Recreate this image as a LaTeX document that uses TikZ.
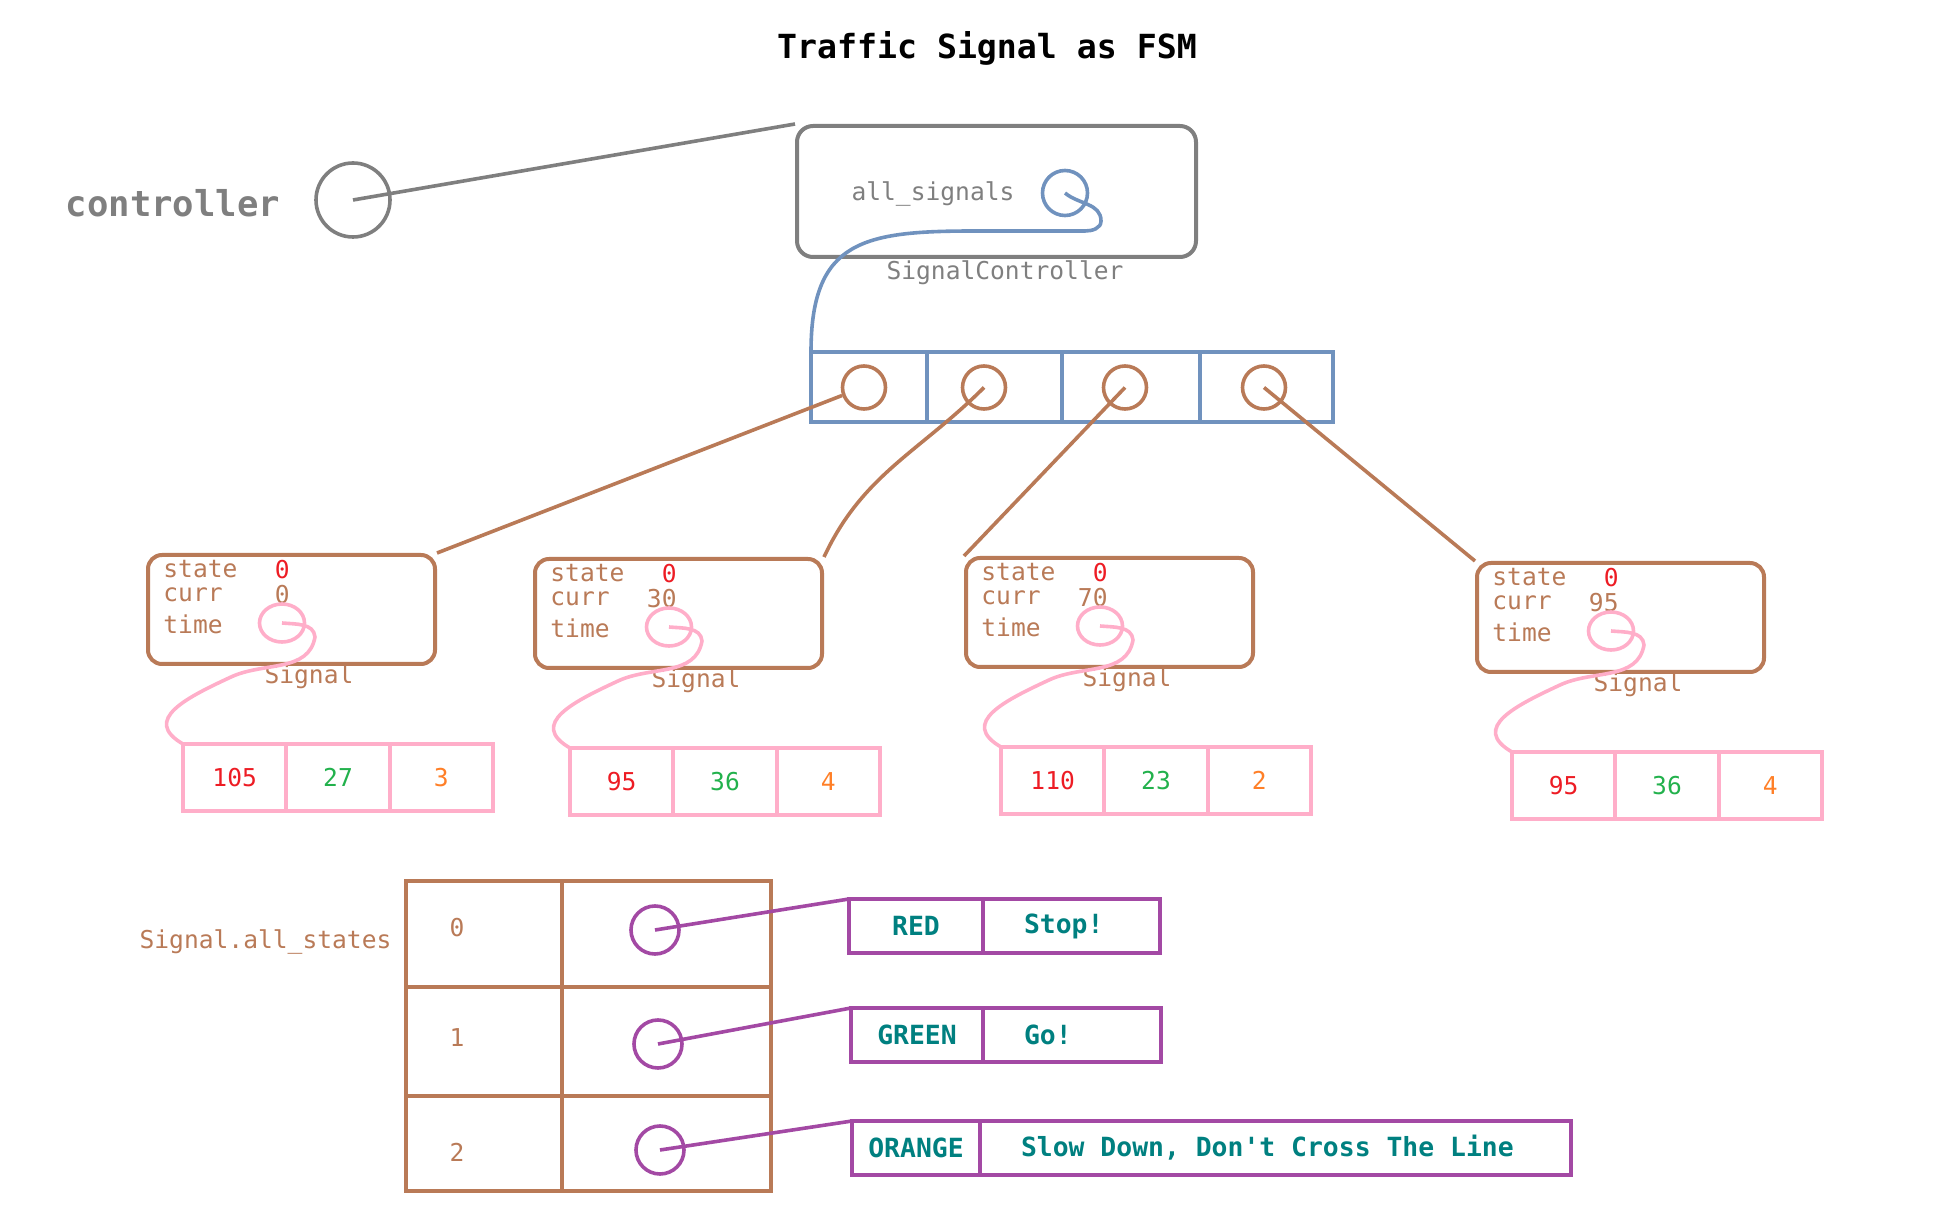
\documentclass[tikz,border=0pt]{standalone}
\usepackage{fontspec}
\setmonofont{DejaVu Sans Mono}
\usepackage{xcolor}
\usepackage{tikz}
\usetikzlibrary{positioning,calc,shapes.geometric}

\definecolor{brn}{HTML}{B97A57}
\definecolor{pnk}{HTML}{FFAEC9}
\definecolor{blu}{HTML}{7092BE}
\definecolor{gry}{HTML}{7F7F7F}
\definecolor{prp}{HTML}{A349A4}
\definecolor{rd}{HTML}{ED1C24}
\definecolor{grn}{HTML}{22B14C}
\definecolor{org}{HTML}{FF7F27}
\definecolor{tel}{HTML}{008080}

\begin{document}
\begin{tikzpicture}[x=0.5pt,y=0.5pt,
    txt/.style={font=\ttfamily\fontsize{12.3}{14}\selectfont,inner sep=0pt},
    hd/.style={font=\ttfamily\bfseries\fontsize{13.2}{15}\selectfont,text=tel},
    ptr/.style={circle,draw,line width=1.8pt,minimum size=#1,inner sep=0pt},
    eptr/.style={ellipse,draw=pnk,line width=1.8pt,minimum width=22.5pt,minimum height=19pt,inner sep=0pt},
    sigbox/.style={draw=brn,line width=2pt,rounded corners=7pt,minimum width=143.5pt,minimum height=54.5pt,inner sep=0pt},
    pcell/.style={txt,draw=pnk,line width=2pt,minimum width=51.67pt,minimum height=33.5pt,outer sep=0pt},
    bcell/.style={draw=blu,line width=2pt,minimum width=#1,minimum height=35pt,inner sep=0pt,outer sep=0pt},
    tcell/.style={draw=brn,line width=2pt,inner sep=0pt,outer sep=0pt},
    scell/.style={hd,draw=prp,line width=2pt,minimum height=27pt,inner sep=0pt,outer sep=0pt},
    lnk/.style={line width=1.8pt}]
  \useasboundingbox (0,0) rectangle (1934,-1224);

  % title
  \node[font=\ttfamily\bfseries\fontsize{16.6}{20}\selectfont] (ttl) at (987,-48) {Traffic Signal as FSM};

  % controller
  \node[font=\ttfamily\bfseries\fontsize{17.8}{20}\selectfont,text=gry] (ctl) at (173,-203) {controller};
  \node[ptr=37pt,draw=gry] (cc) at (353,-200) {};
  \node[draw=gry,line width=2pt,rounded corners=8pt,minimum width=199.5pt,minimum height=65.5pt] (sc) at (996.5,-191.5) {};
  \node[txt,text=gry] (as) at (933,-194) {all\_signals};
  \node[ptr=22.5pt,draw=blu] (ac) at (1065,-193) {};
  \node[txt,text=gry] (scl) at (1005,-273) {SignalController};
  \draw[gry,lnk] (cc.center) -- (sc.north west);

  % all_signals array
  \node[bcell=58pt,anchor=north west] (b1) at (811,-352) {};
  \foreach \k/\w/\p in {2/67.5/1,3/69/2,4/66.5/3}
    \node[bcell=\w pt,right=0pt of b\p] (b\k) {};
  \foreach \k/\cx in {1/864,2/984,3/1125,4/1264}
    \node[ptr=21.5pt,draw=brn] (bc\k) at (\cx,-387.5) {};
  \draw[blu,lnk] (ac.center) to[out=-40,in=90] ++(36,-28) to[out=-90,in=0] ++(-16,-10)
    -- ++(-110,0) to[out=180,in=90,looseness=1.4] (b1.north west);

  % signals
  \foreach \i/\bx/\by/\cu/\va/\vb/\vc in {1/146/553/0/105/27/3,2/533/557/30/95/36/4,3/964/556/70/110/23/2,4/1475/561/95/95/36/4}{
    \node[sigbox,anchor=north west] (s\i) at (\bx,-\by) {};
    \node[txt,text=brn,anchor=west] (st\i) at ($(s\i.north west)+(17,-16.5)$) {state};
    \node[txt,text=brn,anchor=west] (cr\i) at ($(s\i.north west)+(17,-41.5)$) {curr};
    \node[txt,text=brn,anchor=west] (tm\i) at ($(s\i.north west)+(17,-71.5)$) {time};
    \node[txt,text=rd,anchor=east] (sv\i) at ($(s\i.north west)+(144,-16.5)$) {0};
    \node[txt,text=brn,anchor=east] (cv\i) at ($(s\i.north west)+(144,-41.5)$) {\cu};
    \node[eptr] (tc\i) at ($(s\i.north west)+(136,-70)$) {};
    \node[txt,text=brn] (sl\i) at ($(s\i.north west)+(163,-124)$) {Signal};
    % time array
    \node[pcell,text=rd,anchor=north west] (a\i1) at ($(s\i.north west)+(37,-191)$) {\va};
    \node[pcell,text=grn,right=0pt of a\i1] (a\i2) {\vb};
    \node[pcell,text=org,right=0pt of a\i2] (a\i3) {\vc};
    \draw[pnk,lnk] (tc\i.center) to[out=-5,in=95] ++(33,-14) to[out=-100,in=25] ++(-84,-40)
      to[out=-155,in=150,looseness=1.5] (a\i1.north west);
  }

  % links array -> signals
  \draw[brn,lnk] (bc1.200) -- (s1.north east);
  \draw[brn,lnk] (bc2.center) to[out=-135,in=65] (s2.north east);
  \draw[brn,lnk] (bc3.center) -- (s3.north west);
  \draw[brn,lnk] (bc4.center) -- (s4.north west);

  % all_states table
  \node[txt,text=brn] (sas) at (265.5,-942) {Signal.all\_states};
  \node[tcell,minimum width=78pt,minimum height=53pt,anchor=north west] (i0) at (406,-881) {};
  \node[tcell,minimum width=78pt,minimum height=54.5pt,below=0pt of i0] (i1) {};
  \node[tcell,minimum width=78pt,minimum height=47.5pt,below=0pt of i1] (i2) {};
  \foreach \k/\h in {0/53,1/54.5,2/47.5}
    \node[tcell,minimum width=104.5pt,minimum height=\h pt,right=0pt of i\k] (p\k) {};
  \foreach \k/\y/\cx/\cy in {0/928/655/930,1/1038/658/1044,2/1152/660/1150}{
    \node[txt,text=brn] (n\k) at (457,-\y) {\k};
    \node[ptr=24pt,draw=prp] (pc\k) at (\cx,-\cy) {};
  }

  % states
  \foreach \k/\x/\y/\wa/\tw/\na/\nb in {0/849/899/67/47.5/RED/Stop!,1/851/1008/66/48/GREEN/Go!,2/852/1121/64/254.5/ORANGE/{Slow Down, Don't Cross The Line}}{
    \node[scell,minimum width=\wa pt,anchor=north west] (l\k) at (\x,-\y) {\na};
    \node[scell,inner xsep=20.5pt,right=0pt of l\k] (r\k) {\makebox[\tw pt][l]{\nb}};
    \draw[prp,lnk] (pc\k.center) -- (l\k.north west);
  }
\end{tikzpicture}
\end{document}
